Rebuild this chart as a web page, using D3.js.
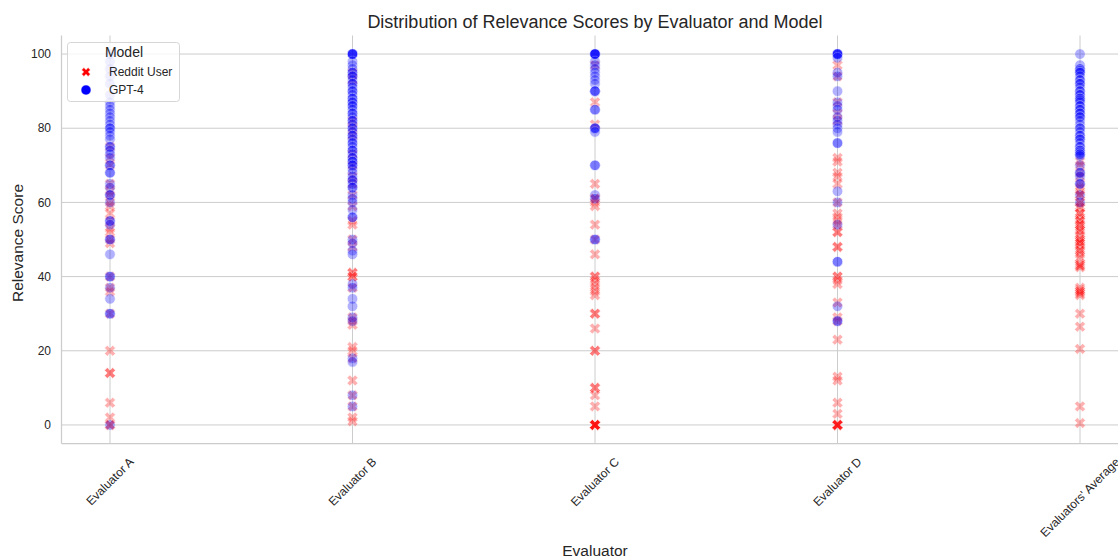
<!DOCTYPE html>
<html><head><meta charset="utf-8">
<script src="https://cdn.jsdelivr.net/npm/d3@7"></script>
<style>
body{margin:0;background:#fff;}
svg{display:block;font-family:"Liberation Sans",Arial,sans-serif;}
</style></head>
<body><svg id="chart" width="1118" height="558"></svg>
<script>
const evaluators = ["Evaluator A","Evaluator B","Evaluator C","Evaluator D","Evaluators' Average"];
const models = ["Reddit User","GPT-4"];
const yTicks = [0,20,40,60,80,100];

const redditA = [75,72,70,65,63,62,60,59,57,55,53,52,50,49,40,37,36,30,20,14,14,6,2,0,0];
const gptA = [100,98,96,94,92,89,87,86,85,84,83,82,81,80,80,79,78,77,75,75,74,73,72,70,70,68,68,65,64,62,62,60,55,55,54,50,50,46,40,40,37,34,30,30,0];
const redditB = [95,93,82,80,78,73,70,67,65,62,59,55,54,50,48,41,41,40,40,37,29,28,27,21,20,18,12,8,5,2,1];
const gptB = [100,100,100,100,100,98,97,96,95,95,94,94,93,92,92,91,90,90,89,88,88,87,87,86,86,85,84,84,83,82,82,81,80,80,79,78,78,77,76,76,75,74,74,73,72,72,71,71,70,70,69,68,67,66,66,65,64,64,62,61,60,58,56,56,50,49,47,46,38,37,34,32,29,28,18,17,8,5];
const redditC = [97,87,81,65,61,61,60,59,54,50,46,40,40,39,38,37,36,35,30,30,26,20,20,10,10,8,5,0,0,0,0,0,0,0];
const gptC = [100,100,100,100,100,100,98,97,96,95,94,93,92,90,90,90,85,85,80,80,80,79,70,70,62,61,50,50];
const redditD = [97,94,87,84,82,72,71,68,67,65,60,57,56,55,54,52,52,48,48,40,40,39,38,33,29,28,23,13,12,6,3,0,0,0,0,0,0];
const gptD = [100,100,100,100,100,99,95,94,90,87,86,85,83,82,81,80,79,76,76,63,60,54,44,44,32,28,28];
const redditAvg = [71,70,68,67,65,64,63,62,62,60,60,59,58.5,57,57,56,55,55,54,54,53,52.5,52,51,50,50,49.5,49,49,48,47,47,46,45,43.5,43,43,42.5,37,36.5,36,36,35.5,35,30,26.5,20.5,5,0.5];
const gptAvg = [100,97,96,96,95.5,95,95,94,93,93,92,92,91,90,90,89,89,88,88,87.5,87,86,86,85,85,84,84,83,83,82,81,80,80,79,78,78,77,77,76,75,75,74,74,73.5,73,73,72.5,70,68,68,67,65,65,62,60];

const redditByEval = [redditA,redditB,redditC,redditD,redditAvg];
const gptByEval = [gptA,gptB,gptC,gptD,gptAvg];

const svg = d3.select("#chart");
const W = 1118, H = 558;
const x = d3.scaleLinear().domain([-0.2, 4.2]).range([61.5, 1128.5]);
const y = d3.scaleLinear().domain([-5, 105]).range([443.5, 35.5]);
const colors = {"Reddit User":"#ff0000","GPT-4":"#0000ff"};
const gridC = "#cccccc", textC = "#262626";

// grid
const g = svg.append("g");
g.selectAll("line.hg").data(yTicks).join("line")
  .attr("x1", 61.5).attr("x2", W).attr("y1", d=>y(d)).attr("y2", d=>y(d))
  .attr("stroke", gridC).attr("stroke-width", 1);
g.selectAll("line.vg").data(evaluators).join("line")
  .attr("x1", (d,i)=>x(i)).attr("x2", (d,i)=>x(i)).attr("y1", 35.5).attr("y2", 443.5)
  .attr("stroke", gridC).attr("stroke-width", 1);
// spines
g.append("line").attr("x1",61.5).attr("x2",61.5).attr("y1",35.5).attr("y2",443.5).attr("stroke",gridC).attr("stroke-width",1.25);
g.append("line").attr("x1",61.5).attr("x2",W).attr("y1",443.5).attr("y2",443.5).attr("stroke",gridC).attr("stroke-width",1.25);

// y tick labels
g.selectAll("text.yt").data(yTicks).join("text")
  .attr("x", 51).attr("y", d=>y(d)).attr("dy","0.35em")
  .attr("text-anchor","end").attr("font-size","12px").attr("fill",textC).text(d=>d);

// x tick labels rotated 45
evaluators.forEach((lab,i)=>{
  const t = g.append("text").attr("font-size","12px").attr("fill",textC)
    .attr("text-anchor","middle").attr("dominant-baseline","central").text(lab);
  const w = t.node().getComputedTextLength(), h = 12*1.15;
  const half = (w+h)/Math.SQRT2/2;
  t.attr("transform", `translate(${x(i)},${455+half}) rotate(-45)`);
});

// labels
svg.append("text").attr("x",595).attr("y",28).attr("text-anchor","middle")
  .attr("font-size","18px").attr("fill",textC).text("Distribution of Relevance Scores by Evaluator and Model");
svg.append("text").attr("x",595).attr("y",556).attr("text-anchor","middle")
  .attr("font-size","15.5px").attr("fill",textC).text("Evaluator");
svg.append("text").attr("transform","translate(23,243) rotate(-90)").attr("text-anchor","middle")
  .attr("font-size","15.5px").attr("fill",textC).text("Relevance Score");

// marker shapes
function xPath(L, t){
  const pts = [[t,L],[t,t],[L,t],[L,-t],[t,-t],[t,-L],[-t,-L],[-t,-t],[-L,-t],[-L,t],[-t,t],[-t,L]];
  const c = Math.SQRT1_2;
  return "M" + pts.map(([a,b])=>[(a-b)*c,(a+b)*c].map(v=>v.toFixed(2)).join(",")).join("L") + "Z";
}
const XP = xPath(5.8, 2.0);

const pts = svg.append("g");
redditByEval.forEach((arr,i)=>{
  pts.selectAll(null).data(arr).join("path")
    .attr("d", XP).attr("transform", d=>`translate(${x(i)},${y(d)})`)
    .attr("fill", colors["Reddit User"]).attr("stroke","#fff").attr("stroke-width",0.7)
    .attr("opacity",0.3);
});
gptByEval.forEach((arr,i)=>{
  pts.selectAll(null).data(arr).join("circle")
    .attr("cx", x(i)).attr("cy", d=>y(d)).attr("r",5.3)
    .attr("fill", colors["GPT-4"]).attr("stroke","#fff").attr("stroke-width",0.7)
    .attr("opacity",0.3);
});

// legend
const lg = svg.append("g");
lg.append("rect").attr("x",67.5).attr("y",42.5).attr("width",112).attr("height",59).attr("rx",3)
  .attr("fill","#fff").attr("fill-opacity",0.8).attr("stroke","#d6d6d6").attr("stroke-width",1);
lg.append("text").attr("x",124).attr("y",57).attr("text-anchor","middle").attr("font-size","14px").attr("fill",textC).text("Model");
models.forEach((m,i)=>{
  const cy = 72 + i*18;
  if(i===0){
    lg.append("path").attr("d", xPath(4.6,1.6)).attr("transform",`translate(86,${cy})`).attr("fill",colors[m]).attr("stroke","#fff").attr("stroke-width",0.5);
  } else {
    lg.append("circle").attr("cx",86).attr("cy",cy).attr("r",5).attr("fill",colors[m]).attr("stroke","#fff").attr("stroke-width",0.5);
  }
  lg.append("text").attr("x",109).attr("y",cy).attr("dy","0.35em").attr("font-size","12px").attr("fill",textC).text(m);
});
</script></body></html>
